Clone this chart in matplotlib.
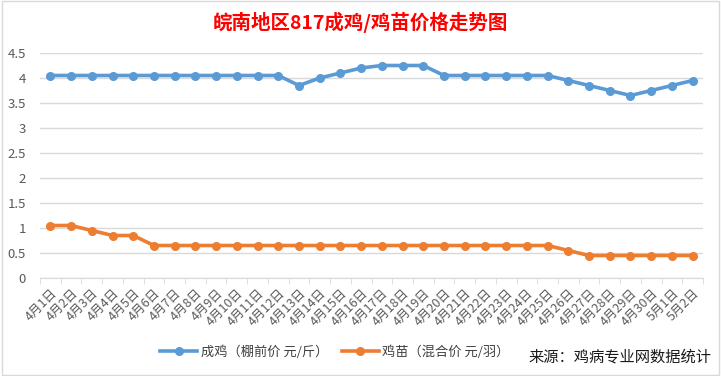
import matplotlib
matplotlib.use("Agg")
import matplotlib.pyplot as plt
import numpy as np

plt.rcParams['font.family'] = ['Noto Sans CJK SC', 'DejaVu Sans']

dates = [f"4月{d}日" for d in range(1, 31)] + ["5月1日", "5月2日"]
broiler = [4.05]*12 + [3.85, 4.0, 4.1, 4.2, 4.25, 4.25, 4.25] + [4.05]*6 + [3.95, 3.85, 3.75, 3.65, 3.75, 3.85, 3.95]
chick = [1.05, 1.05, 0.95, 0.85, 0.85] + [0.65]*20 + [0.55] + [0.45]*6
yticks = [0, 0.5, 1, 1.5, 2, 2.5, 3, 3.5, 4, 4.5]
ytick_labels = ["0", "0.5", "1", "1.5", "2", "2.5", "3", "3.5", "4", "4.5"]

title = "皖南地区817成鸡/鸡苗价格走势图"
series_names = ["成鸡（棚前价 元/斤）", "鸡苗（混合价 元/羽）"]
source = "来源：鸡病专业网数据统计"

blue = "#5b9bd5"
orange = "#ed7d31"

fig = plt.figure(figsize=(7.21, 3.76), dpi=100)
fig.patch.set_facecolor("white")
ax = fig.add_axes([40/721, 1-278/376, 663/721, (278-53)/376])

x = np.arange(len(dates))
l1, = ax.plot(x, broiler, color=blue, lw=2.6, marker='o', ms=5.5, label=series_names[0])
l2, = ax.plot(x, chick, color=orange, lw=2.6, marker='o', ms=5.5, label=series_names[1])

ax.set_xlim(-0.5, len(dates)-0.5)
ax.set_ylim(0, 4.5)
ax.set_yticks(yticks)
ax.set_yticklabels(ytick_labels, color="#595959", fontsize=9.5)
ax.tick_params(axis='y', length=0, pad=10)
ax.grid(axis='y', color="#d9d9d9", lw=1)
ax.set_axisbelow(True)
for s in ['top', 'right', 'left']:
    ax.spines[s].set_visible(False)
ax.spines['bottom'].set_color("#d9d9d9")

ax.set_xticks(x)
ax.set_xticklabels(dates, rotation=45, ha='right', rotation_mode='anchor',
                   color="#595959", fontsize=9)
ax.tick_params(axis='x', which='major', length=0, pad=6)
ax.set_xticks(np.arange(-0.5, len(dates), 1), minor=True)
ax.tick_params(axis='x', which='minor', length=4, color="#d9d9d9")

fig.text(360/721, 1-22/376, title, ha='center', va='center', color="#ff0000",
         fontsize=14, fontweight='bold')

fig.legend(handles=[l1, l2], loc='center', bbox_to_anchor=(335/721, 1-352/376),
           ncol=2, frameon=False, fontsize=9.5, labelcolor="#404040",
           handlelength=2.8, columnspacing=1.0, handletextpad=0.3)
fig.text(711/721, 1-357/376, source, ha='right', va='center', color="#1a1a1a", fontsize=11)

# outer border
fig.add_artist(plt.Rectangle((0.003, 0.003), 0.994, 0.994, transform=fig.transFigure,
                             fill=False, edgecolor="#d9d9d9", lw=1))

fig.savefig("out.png", dpi=100)
